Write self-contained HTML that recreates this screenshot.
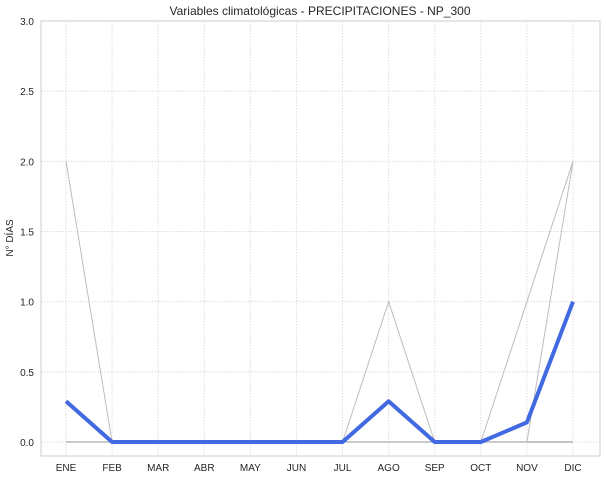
<!DOCTYPE html>
<html><head><meta charset="utf-8"><style>
body{margin:0;background:#fff;font-family:"Liberation Sans",sans-serif;}
svg text{font-family:"Liberation Sans",sans-serif;fill:#262626;}
</style></head><body>
<svg id="c" width="606" height="479"></svg>
<script>
const months=["ENE","FEB","MAR","ABR","MAY","JUN","JUL","AGO","SEP","OCT","NOV","DIC"];
const meanVals=[0.29,0,0,0,0,0,0,0.29,0,0,0.14,1];
const maxA=[2,0,0,0,0,0,0,1,0,0,0,2];
const maxB=[0,0,0,0,0,0,0,0,0,0,1,2];
const minVals=[0,0,0,0,0,0,0,0,0,0,0,0];
const yTicks=[0,0.5,1,1.5,2,2.5,3];
const L=41,R=600,T=21,B=456;
const x=i=>66+i*(573-66)/11;
const y=v=>442-v*(442-21)/3;
const s=document.getElementById('c');const NS='http://www.w3.org/2000/svg';
function el(t,a,txt){const e=document.createElementNS(NS,t);for(const k in a)e.setAttribute(k,a[k]);if(txt!=null)e.textContent=txt;s.appendChild(e);return e;}
yTicks.forEach(v=>{
 const g=el('line',{x1:L,x2:R,y1:y(v),y2:y(v),stroke:'#ddd','stroke-dasharray':'1.5,1.5','stroke-width':1});
 
 
 const t=el('text',{x:L-7,y:y(v)+4,'text-anchor':'end','font-size':10},v.toFixed(1));
 
 
});
months.forEach((m,i)=>{
 const g=el('line',{x1:x(i),x2:x(i),y1:T,y2:B,stroke:'#ddd','stroke-dasharray':'1.5,1.5','stroke-width':1});
 
 
 const t=el('text',{x:x(i),y:B+15,'text-anchor':'middle','font-size':10},m);
 
 
});
const fr=el('rect',{x:L,y:T,width:R-L,height:B-T,fill:'none',stroke:'#ccc'});


function line(vals,color,w,name){
 const p=el('polyline',{points:vals.map((v,i)=>x(i)+','+y(v)).join(' '),fill:'none',stroke:color,'stroke-width':w,'stroke-linejoin':'round'});
 
 
}
line(minVals,'#b0b0b0',1.5,'min-line');
line(maxA,'#bdbdbd',1,'max-line-a');
line(maxB,'#bdbdbd',1,'max-line-b');
line(meanVals,'#4169e1',4,'mean-line');
const tt=el('text',{x:320,y:15,'text-anchor':'middle','font-size':12},'Variables climatológicas - PRECIPITACIONES - NP_300');


const yl=el('text',{x:13,y:238,'text-anchor':'middle','font-size':10,transform:'rotate(-90 13 238)'},'N° DÍAS');


</script>
</body></html>
